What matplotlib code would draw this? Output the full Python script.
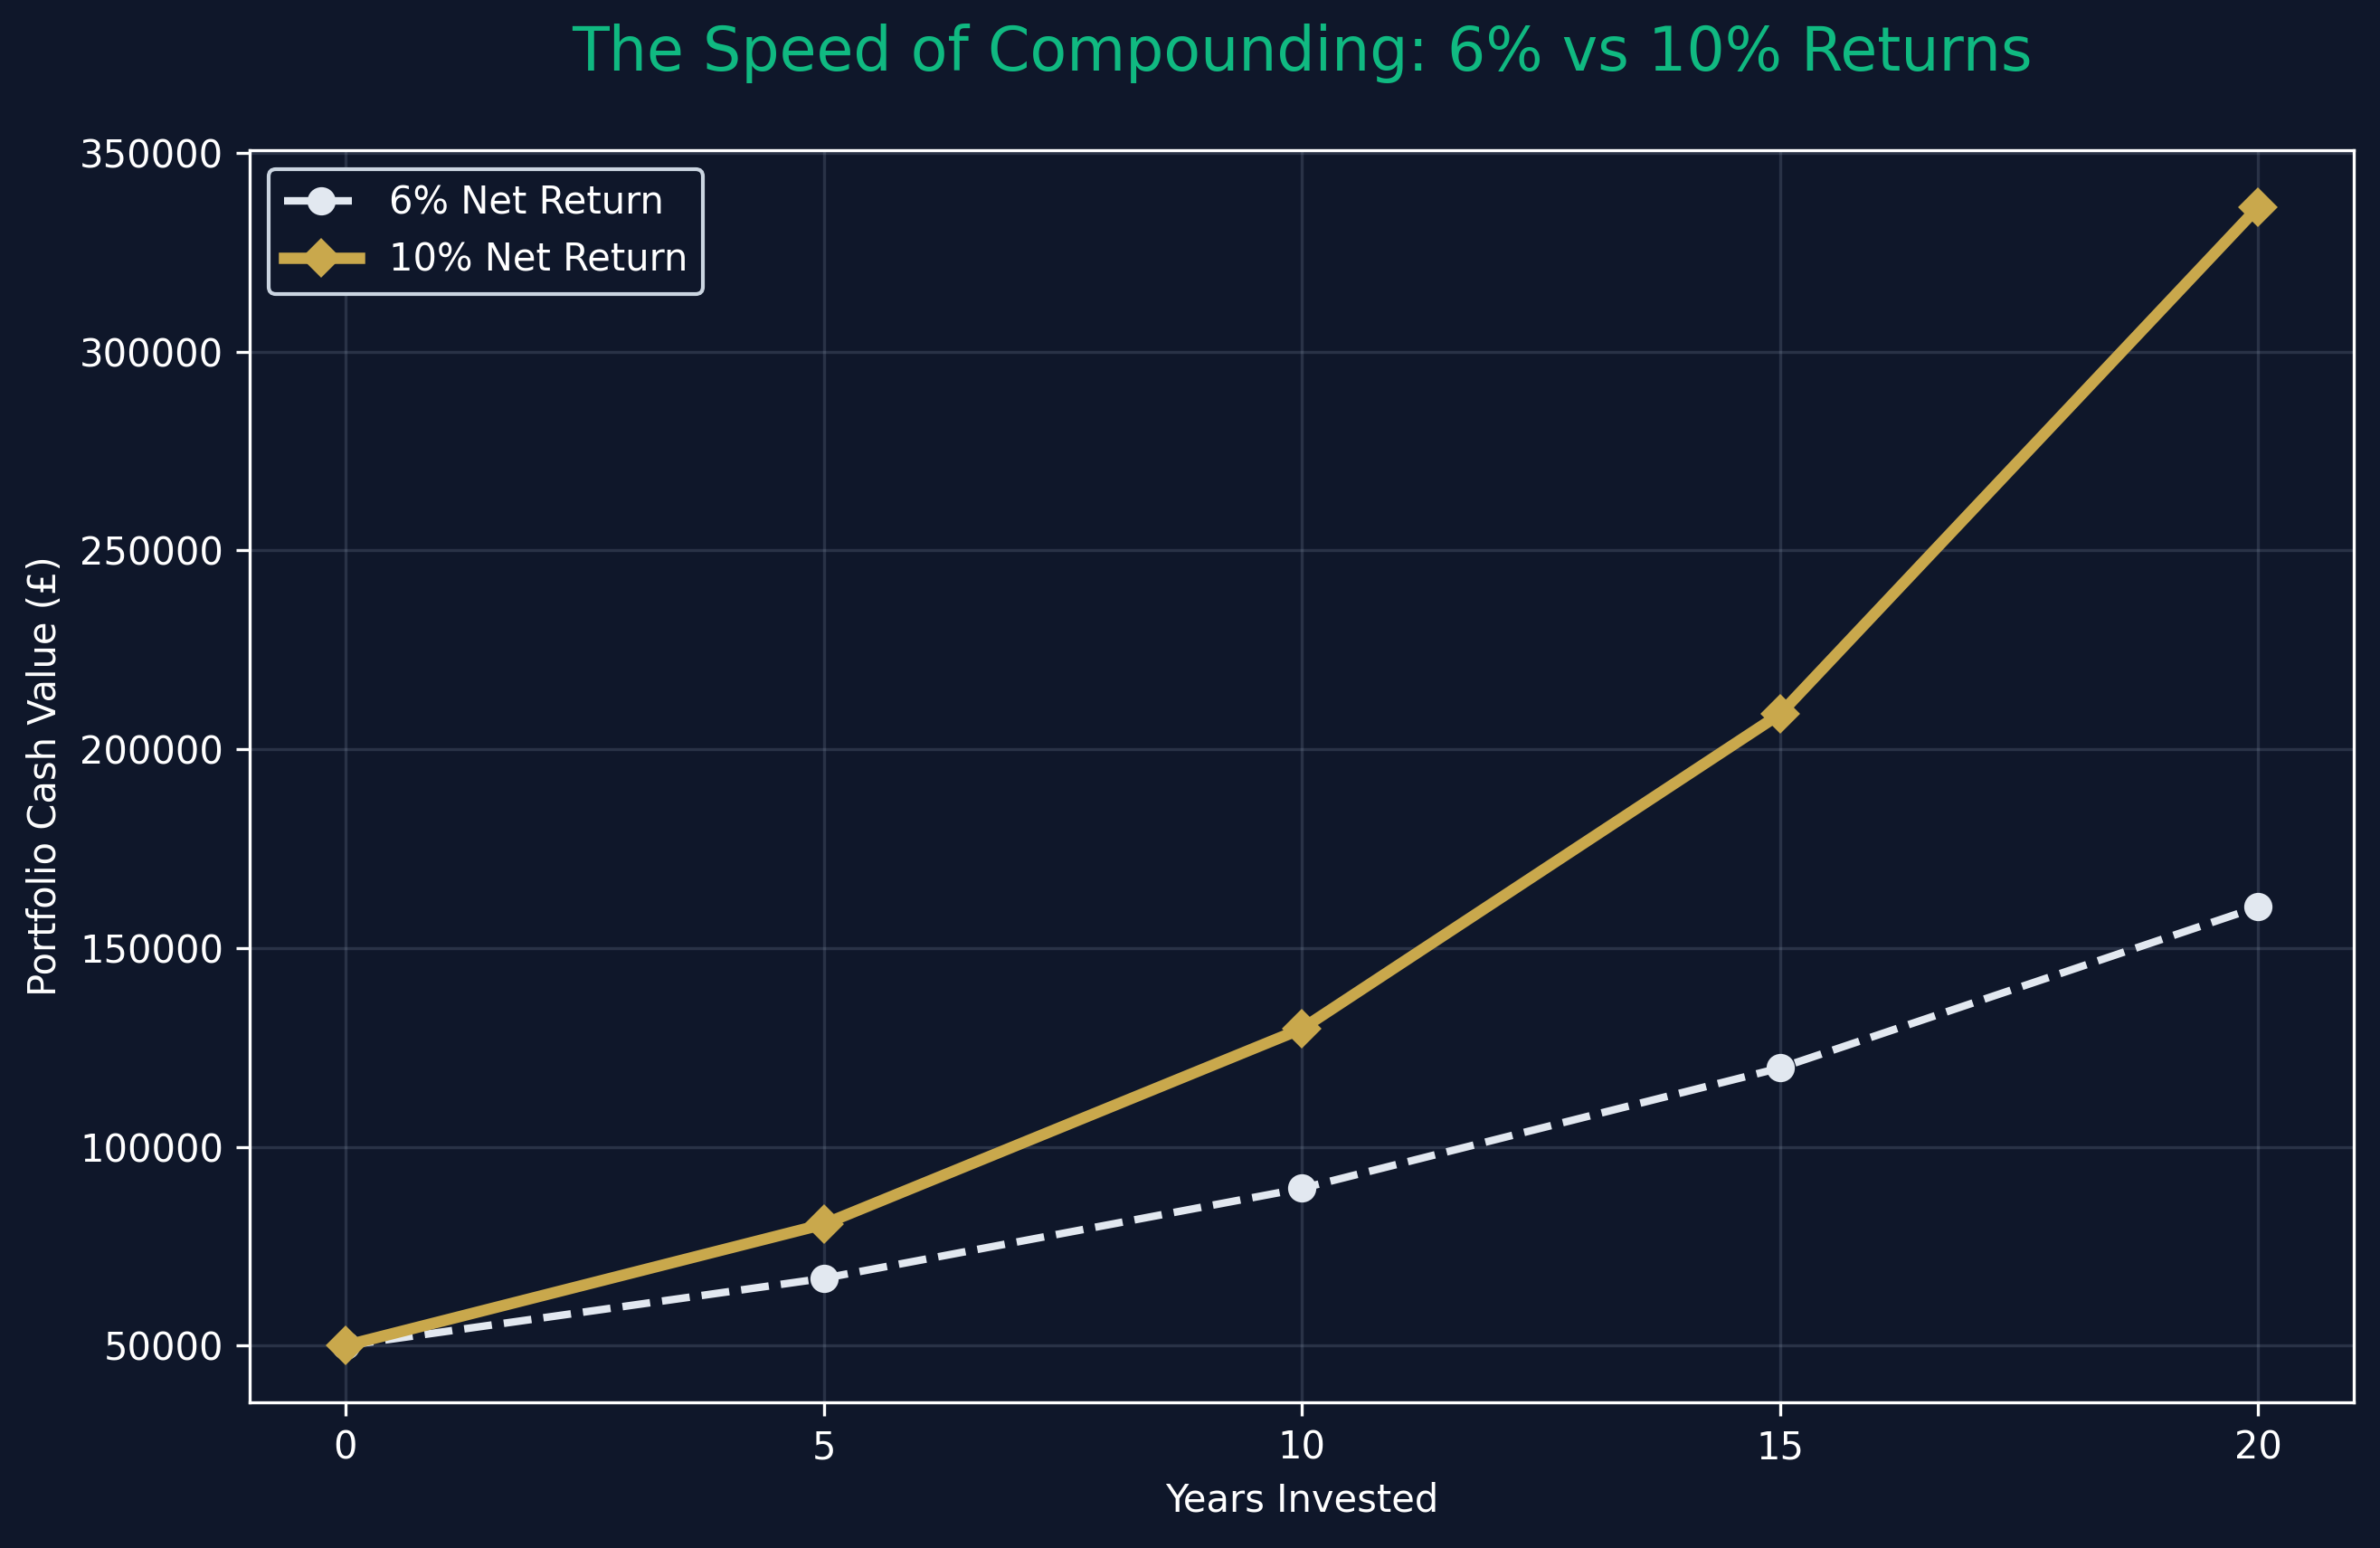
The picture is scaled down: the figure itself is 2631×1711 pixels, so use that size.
import matplotlib
matplotlib.use("Agg")
import matplotlib.pyplot as plt

# ── data ───────────────────────────────────────────────────────────────────────
years = [0, 5, 10, 15, 20]
value_6 = [50000, 66911, 89542, 119828, 160357]
value_10 = [50000, 80526, 129687, 208862, 336375]

BG = "#0f172a"
GOLD = "#c9a84c"
PALE = "#e2e8f0"
GREEN = "#10b981"

fig = plt.figure(figsize=(2631 / 300, 1711 / 300), dpi=300, facecolor=BG)
ax = fig.add_axes([0.105, 0.094, 0.884, 0.809], facecolor=BG)

ax.plot(years, value_6, color=PALE, linestyle="--", linewidth=2, marker="o",
        markersize=6.5, label="6% Net Return")
ax.plot(years, value_10, color=GOLD, linewidth=3, marker="D",
        markersize=6.5, label="10% Net Return")

ax.set_title("The Speed of Compounding: 6% vs 10% Returns", color=GREEN,
             fontsize=16, pad=21)
ax.set_xlabel("Years Invested", color="white")
ax.set_ylabel("Portfolio Cash Value (£)", color="white")
ax.set_xticks(years)
ax.set_yticks(range(50000, 350001, 50000))
ax.tick_params(colors="white")
for s in ax.spines.values():
    s.set_color("white")
ax.grid(True, color="#94a3b8", alpha=0.2, linewidth=0.8)

leg = ax.legend(loc="upper left", facecolor=BG, edgecolor="#cbd5e1",
                framealpha=1)
for t in leg.get_texts():
    t.set_color("white")

fig.savefig("out.png", dpi=300, facecolor=BG)
